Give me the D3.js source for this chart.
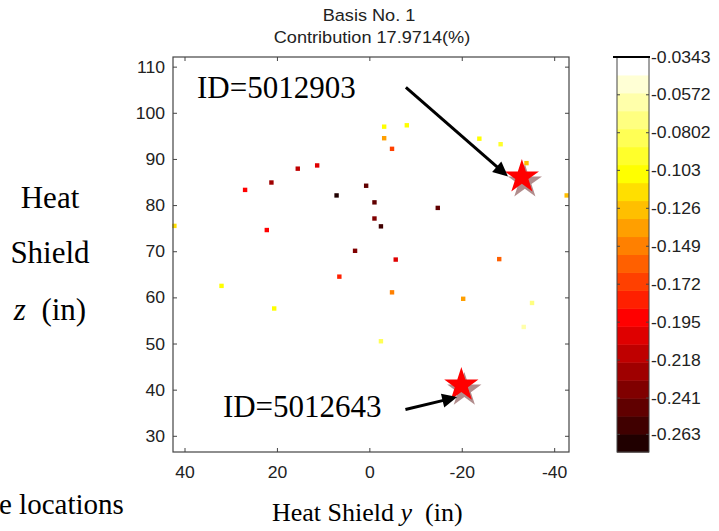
<!DOCTYPE html>
<html>
<head>
<meta charset="utf-8">
<script src="https://cdn.jsdelivr.net/npm/d3@7"></script>
<style>
body{margin:0;background:#fff;}
text{white-space:pre;}
</style>
</head>
<body>
<script>
// sensor positions on the heat shield (in) and basis value
var sensorY = [27.0, 21.3, 15.6, 11.4, 7.2, 0.8, -1.0, -1.0, -2.4, 3.2, -14.7, 22.3, 42.3, 32.1, 20.7, 6.6,
               -5.6, -28.0, -4.8, -20.2, -35.1, -33.3, -2.4, -3.1, -8.0, -3.1, -4.8, -23.7, -28.3, -33.9, -42.6];
var sensorZ = [83.4, 85.0, 88.0, 88.7, 82.2, 84.3, 80.7, 77.2, 75.5, 70.2, 79.5, 74.7, 75.6, 62.6, 57.7, 64.6,
               68.3, 68.4, 61.2, 59.8, 58.9, 53.7, 50.6, 97.1, 97.4, 94.6, 92.3, 94.5, 93.3, 89.2, 82.2];
var sensorVal = [-0.192, -0.225, -0.214, -0.203, -0.268, -0.247, -0.247, -0.236, -0.257, -0.236, -0.247, -0.192,
                 -0.116, -0.105, -0.108, -0.181, -0.203, -0.160, -0.149, -0.138, -0.0724, -0.0615, -0.0833,
                 -0.105, -0.100, -0.138, -0.170, -0.105, -0.094, -0.127, -0.127];

// highlighted sensors
var starY = [-32.9, -19.8];
var starZ = [86.2, 41.1];
var idLabels = ["ID=5012903", "ID=5012643"];
var labelY = [37.4, 31.8];
var labelZ = [103.4, 34.1];
var arrowFromY = [-7.8, -7.7];
var arrowFromZ = [105.6, 35.8];
var arrowToY = [-29.9, -18.9];
var arrowToZ = [86.3, 38.5];

var xTicks = [40, 20, 0, -20, -40];
var yTicks = [30, 40, 50, 60, 70, 80, 90, 100, 110];
var cbLabels = ["-0.0343", "-0.0572", "-0.0802", "-0.103", "-0.126", "-0.149", "-0.172", "-0.195", "-0.218", "-0.241", "-0.263"];
var cMin = -0.2737, cMax = -0.0343, nColors = 22;

var W = 719, H = 531;
var pl = 173, pr = 569, pt = 57, pb = 452;
var cbL = 617, cbR = 649;
var sx = 1.1;

var svg = d3.select("body").append("svg").attr("width", W).attr("height", H);

var x = d3.scaleLinear().domain([42.6, -43.1]).range([pl, pr]);
var y = d3.scaleLinear().domain([26.6, 112.2]).range([pb, pt]);
var cy = d3.scaleLinear().domain([cMin, cMax]).range([pb, pt]);

// matlab "hot" colormap, low value = black
function hot(m){
    var n = Math.floor(3 / 8 * m), out = [];
    for (var i = 1; i <= m; i++){
        var r = i <= n ? i / n : 1;
        var g = i <= n ? 0 : (i <= 2 * n ? (i - n) / n : 1);
        var b = i <= 2 * n ? 0 : (i - 2 * n) / (m - 2 * n);
        out.push(d3.rgb(r * 255, g * 255, b * 255).toString());
    }
    return out;
}
var hotColors = hot(nColors);
var color = d3.scaleQuantize().domain([cMin, cMax]).range(hotColors);

function sansText(xp, yp, str, anchor, size){
    return svg.append("text")
        .attr("transform", "translate(" + xp + "," + yp + ") scale(" + sx + ",1)")
        .attr("text-anchor", anchor).attr("dy", "0.35em")
        .attr("font-family", "Liberation Sans, Arial, sans-serif").attr("font-size", size || 16)
        .attr("fill", "#222").text(str);
}

function serifText(xp, yp, size, anchor){
    return svg.append("text").attr("x", xp).attr("y", yp)
        .attr("text-anchor", anchor)
        .attr("font-family", "Liberation Serif, Times New Roman, serif").attr("font-size", size)
        .attr("fill", "#000");
}

// title
sansText(369, 15, "Basis No. 1", "middle", 16.5);
sansText(372, 37, "Contribution 17.9714(%)", "middle", 16.5);

// sensors
svg.append("g").selectAll("rect").data(d3.range(sensorY.length)).enter().append("rect")
    .attr("x", function(i){ return x(sensorY[i]) - 2.2; })
    .attr("y", function(i){ return y(sensorZ[i]) - 2.2; })
    .attr("width", 4.4).attr("height", 4.4)
    .attr("fill", function(i){ return color(sensorVal[i]); });

// stars with shadow
var R = 18;
var star = d3.symbol().type(d3.symbolStar).size(R * R / 0.8908130915292852);
for (var s = 0; s < starY.length; s++){
    svg.append("path").attr("d", star())
        .attr("transform", "translate(" + (x(starY[s]) + 3) + "," + (y(starZ[s]) + 5) + ")")
        .attr("fill", "#a88080").attr("opacity", 0.9);
    svg.append("path").attr("d", star())
        .attr("transform", "translate(" + x(starY[s]) + "," + y(starZ[s]) + ")")
        .attr("fill", "#ff0000");
}

// arrows
function drawArrow(x1, y1, x2, y2){
    var dx = x2 - x1, dy = y2 - y1, len = Math.sqrt(dx * dx + dy * dy);
    var ux = dx / len, uy = dy / len, hl = 15, hw = 7;
    var bx = x2 - ux * hl, by = y2 - uy * hl;
    svg.append("line")
        .attr("x1", x1).attr("y1", y1).attr("x2", bx + ux * 2).attr("y2", by + uy * 2)
        .attr("stroke", "#000").attr("stroke-width", 3);
    svg.append("path")
        .attr("d", "M" + x2 + "," + y2 + "L" + (bx - uy * hw) + "," + (by + ux * hw) +
              "L" + (bx + uy * hw) + "," + (by - ux * hw) + "Z")
        .attr("fill", "#000");
}
for (var a = 0; a < idLabels.length; a++){
    drawArrow(x(arrowFromY[a]), y(arrowFromZ[a]), x(arrowToY[a]), y(arrowToZ[a]));
    serifText(x(labelY[a]), y(labelZ[a]), 31, "start").text(idLabels[a]);
}

// axes box
svg.append("rect").attr("x", pl).attr("y", pt).attr("width", pr - pl).attr("height", pb - pt)
    .attr("fill", "none").attr("stroke", "#444").attr("stroke-width", 1.2);

xTicks.forEach(function(t){
    svg.append("line").attr("x1", x(t)).attr("x2", x(t)).attr("y1", pb).attr("y2", pb - 4)
        .attr("stroke", "#444");
    svg.append("line").attr("x1", x(t)).attr("x2", x(t)).attr("y1", pt).attr("y2", pt + 4)
        .attr("stroke", "#444");
    sansText(x(t), 472, String(t), "middle");
});
yTicks.forEach(function(t){
    svg.append("line").attr("x1", pl).attr("x2", pl + 4).attr("y1", y(t)).attr("y2", y(t))
        .attr("stroke", "#444");
    svg.append("line").attr("x1", pr).attr("x2", pr - 4).attr("y1", y(t)).attr("y2", y(t))
        .attr("stroke", "#444");
    sansText(165, y(t), String(t), "end");
});

// colorbar
var step = (cMax - cMin) / nColors;
svg.append("g").selectAll("rect").data(d3.range(nColors)).enter().append("rect")
    .attr("x", cbL).attr("width", cbR - cbL)
    .attr("y", function(i){ return cy(cMin + (i + 1) * step); })
    .attr("height", function(i){ return cy(cMin + i * step) - cy(cMin + (i + 1) * step) + 0.5; })
    .attr("fill", function(i){ return hotColors[i]; });
svg.append("rect").attr("x", cbL).attr("y", pt).attr("width", cbR - cbL).attr("height", pb - pt)
    .attr("fill", "none").attr("stroke", "#444").attr("stroke-width", 1);
cbLabels.forEach(function(l, i){
    var v = +l, yy = cy(v);
    if (i == 0){
        svg.append("line").attr("x1", 613).attr("x2", cbR + 1).attr("y1", yy).attr("y2", yy)
            .attr("stroke", "#000").attr("stroke-width", 2);
    } else {
        svg.append("line").attr("x1", cbL).attr("x2", cbL + 3).attr("y1", yy).attr("y2", yy).attr("stroke", "#444");
        svg.append("line").attr("x1", cbR).attr("x2", cbR - 3).attr("y1", yy).attr("y2", yy).attr("stroke", "#444");
    }
    sansText(651, yy, l, "start");
});

// slide labels
serifText(50, 208, 31, "middle").text("Heat");
serifText(50, 263, 31, "middle").text("Shield");
var zl = serifText(50, 320, 31, "middle");
zl.append("tspan").attr("font-style", "italic").text("z");
zl.append("tspan").text("  (in)");

var yl = serifText(272, 521, 26, "start");
yl.append("tspan").text("Heat Shield ");
yl.append("tspan").attr("font-style", "italic").text("y");
yl.append("tspan").text("  (in)");

serifText(-1, 514, 29, "start").text("e locations");
</script>
</body>
</html>
